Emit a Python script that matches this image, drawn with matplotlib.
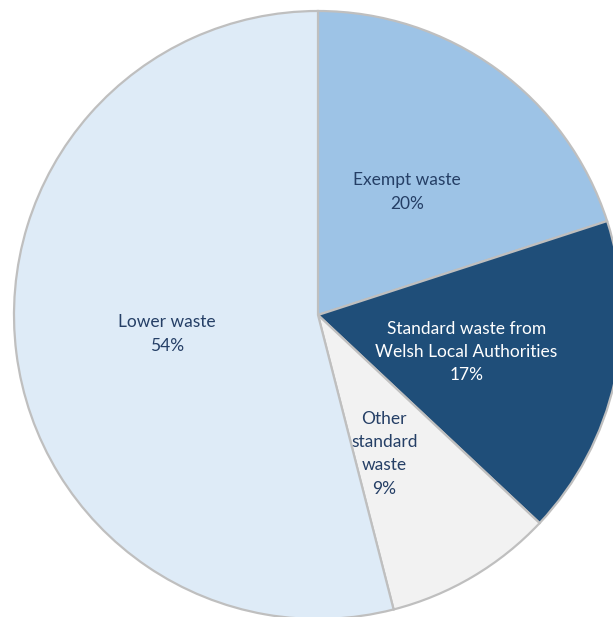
import numpy as np
import matplotlib
matplotlib.use("Agg")
import matplotlib.pyplot as plt

categories = ["Exempt waste", "Standard waste from\nWelsh Local Authorities",
              "Other\nstandard\nwaste", "Lower waste"]
shares = [20, 17, 9, 54]
colors = ["#9DC3E6", "#1F4E79", "#F2F2F2", "#DEEBF7"]
text_colors = ["#253F66", "#FFFFFF", "#253F66", "#253F66"]
# small nudges (in pixels) so each label sits clear of the slice edges
label_nudges = [(0, 0), (0, -4), (-11, -8), (0, 0)]

W, H = 613, 617
fig = plt.figure(figsize=(W / 100, H / 100), dpi=100)
ax = fig.add_axes([0, 0, 1, 1])

cx, cy, R = 318, H - 315, 304
wedges, _ = ax.pie(shares, colors=colors, startangle=90, counterclock=False,
                   center=(cx, cy), radius=R, frame=True,
                   wedgeprops=dict(edgecolor="#BFBFBF", linewidth=1.6))
ax.set_xlim(0, W)
ax.set_ylim(0, H)
ax.set_aspect("equal")
ax.axis("off")

for w, name, val, tc, (dx, dy) in zip(wedges, categories, shares,
                                      text_colors, label_nudges):
    mid = np.deg2rad((w.theta1 + w.theta2) / 2)
    x = cx + 0.5 * R * np.cos(mid) + dx
    y = cy + 0.5 * R * np.sin(mid) + dy
    ax.text(x, y, f"{name}\n{val}%", ha="center", va="center", color=tc,
            fontsize=12.5, family="Lato", linespacing=1.55)

fig.savefig("out.png", dpi=100)
